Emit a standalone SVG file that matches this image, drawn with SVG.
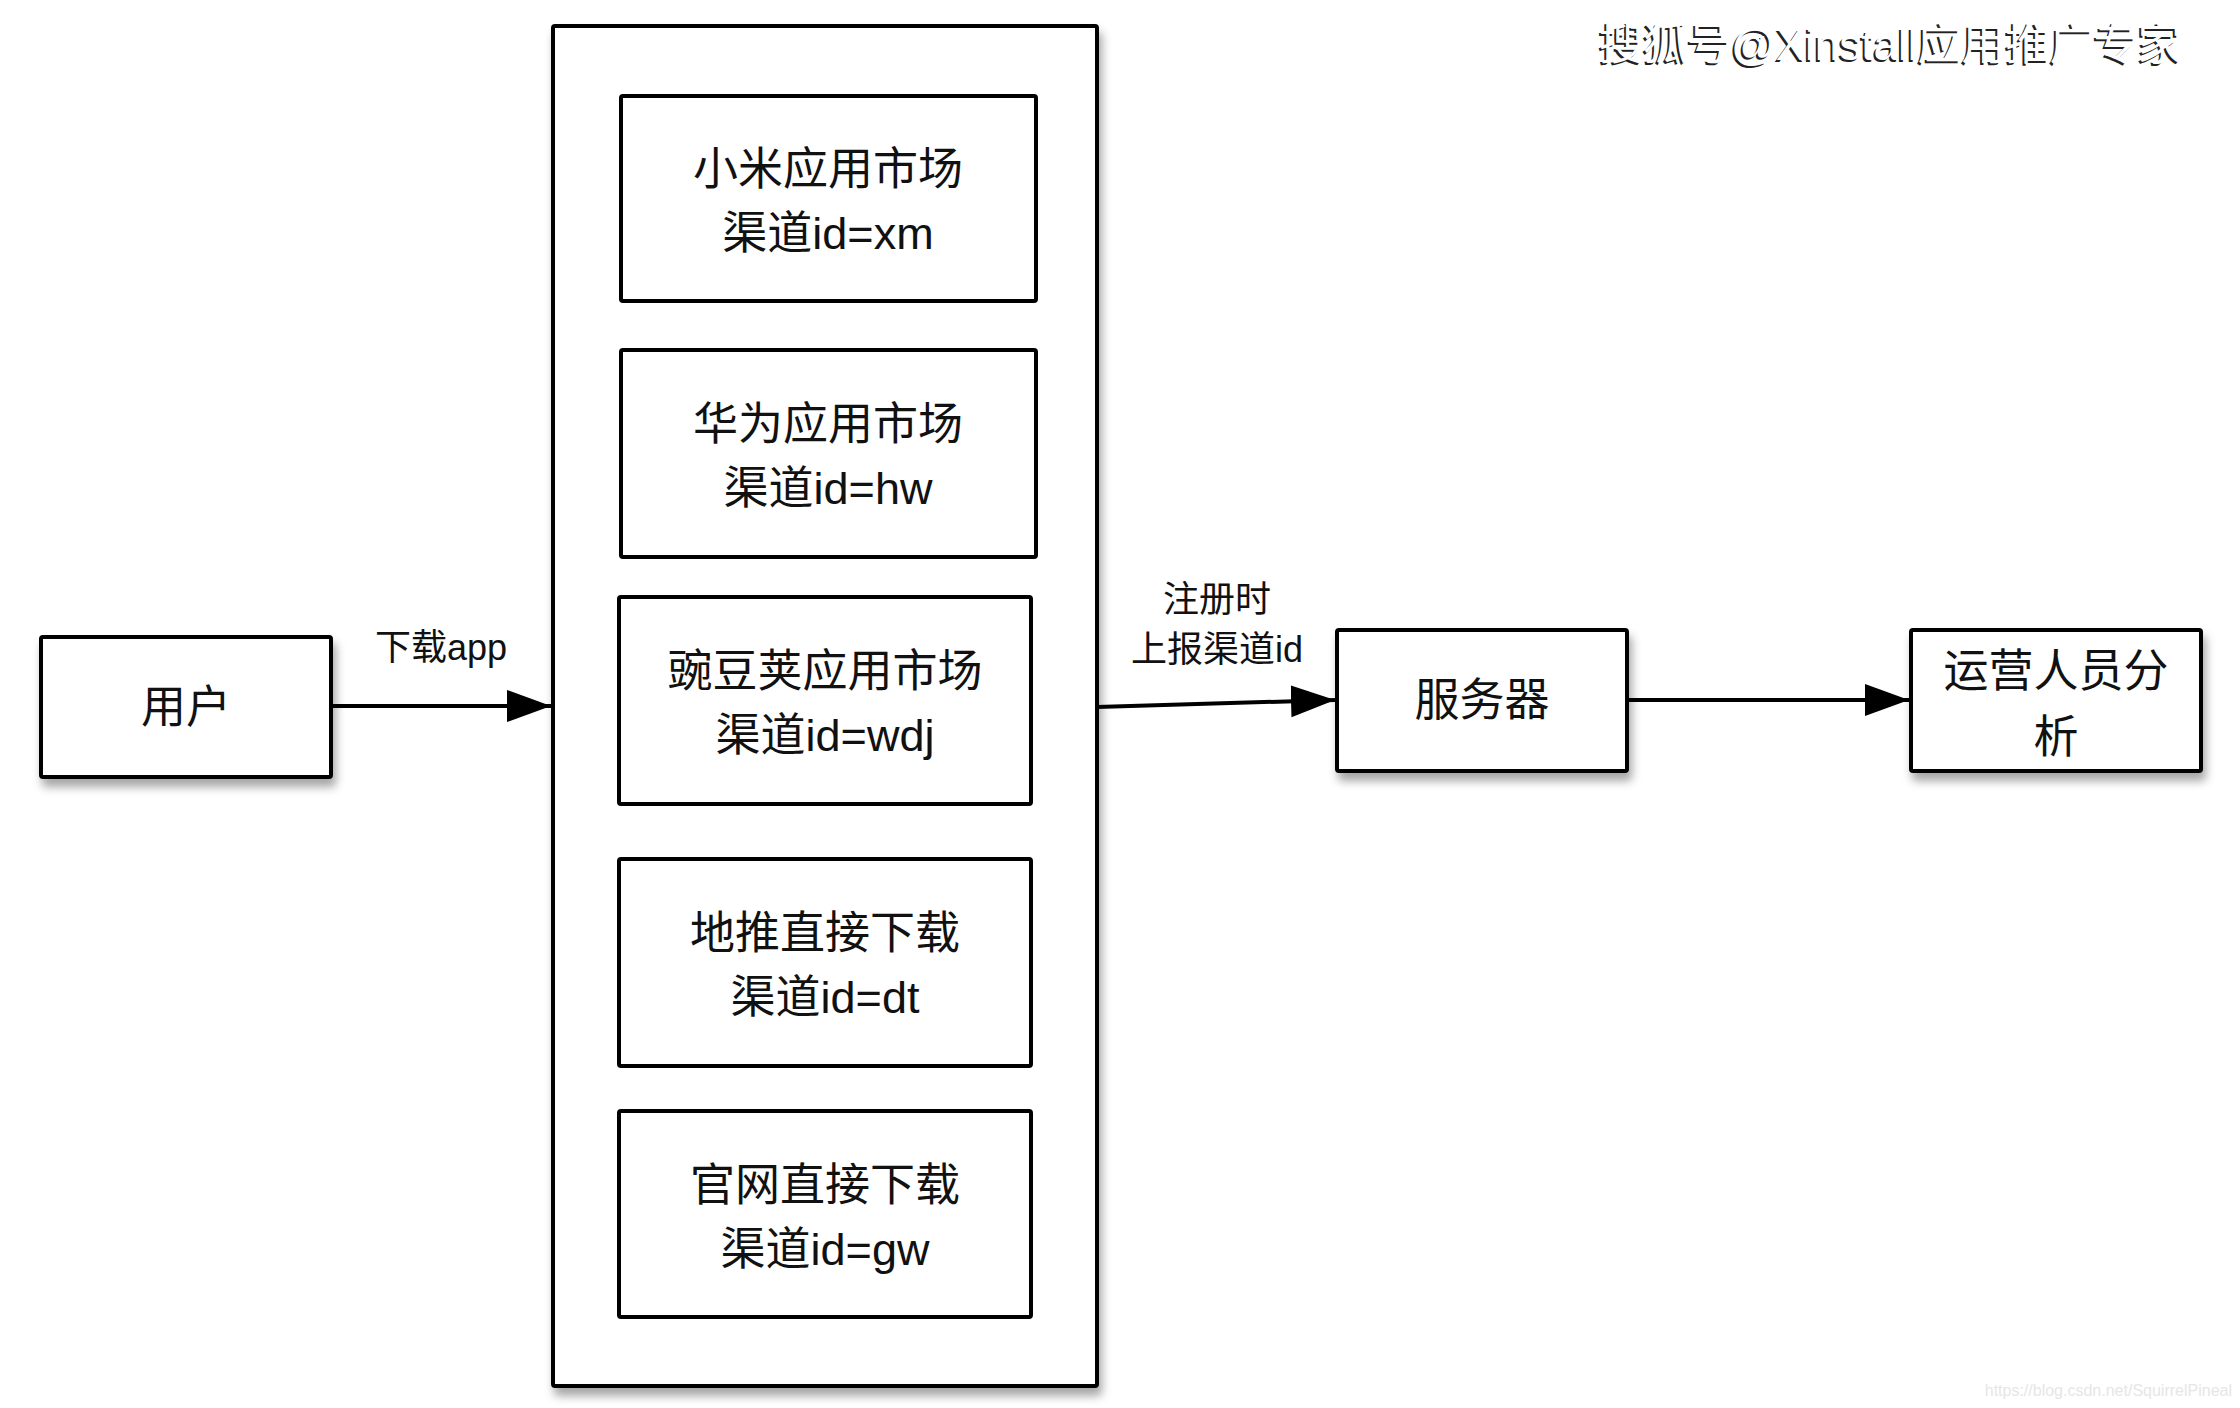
<svg xmlns="http://www.w3.org/2000/svg" width="2240" height="1408" viewBox="0 0 2240 1408">
<defs>
<filter id="sh" x="-10%" y="-10%" width="130%" height="140%">
<feDropShadow dx="3" dy="8" stdDeviation="5" flood-color="#000" flood-opacity="0.35"/>
</filter>
<marker id="ah" markerUnits="userSpaceOnUse" markerWidth="46" markerHeight="34" refX="44" refY="16" orient="auto">
<path d="M0,0 L44,16 L0,32 Z" fill="#000"/>
</marker>
<style>
.box{fill:#fff;stroke:#000;stroke-width:4;}
.sh{filter:url(#sh);}
.t{font-family:"Liberation Sans","Noto Sans CJK SC",sans-serif;font-size:45px;fill:#111;text-anchor:middle;}
.l{font-family:"Liberation Sans","Noto Sans CJK SC",sans-serif;font-size:36px;fill:#111;text-anchor:middle;}
.c{fill:none;stroke:#000;stroke-width:4;marker-end:url(#ah);}
.wm{font-family:"Liberation Sans","Noto Sans CJK SC",sans-serif;font-size:44px;}
</style>
</defs>
<rect width="2240" height="1408" fill="#fff"/>

<g id="watermark">
<text class="wm" x="1597" y="62" fill="#222">搜狐号@Xinstall应用推广专家</text>
<text class="wm" x="1599" y="60" fill="#fff">搜狐号@Xinstall应用推广专家</text>
<text x="2232" y="1396" font-family="Liberation Sans, sans-serif" font-size="16" fill="#e6e6e6" text-anchor="end">https://blog.csdn.net/SquirrelPineal</text>
</g>

<g id="user">
<rect class="box sh" x="41" y="637" width="290" height="140" rx="2"/>
<text class="t" x="186" y="723">用户</text>
</g>

<g id="channels">
<rect class="box sh" x="553" y="26" width="544" height="1360" rx="2"/>
</g>

<g id="xiaomi">
<rect class="box" x="621" y="96" width="415" height="205" rx="2"/>
<text class="t" x="828" y="185">小米应用市场</text>
<text class="t" x="828" y="249">渠道id=xm</text>
</g>

<g id="huawei">
<rect class="box" x="621" y="350" width="415" height="207" rx="2"/>
<text class="t" x="828" y="440">华为应用市场</text>
<text class="t" x="828" y="504">渠道id=hw</text>
</g>

<g id="wandoujia">
<rect class="box" x="619" y="597" width="412" height="207" rx="2"/>
<text class="t" x="825" y="687">豌豆荚应用市场</text>
<text class="t" x="825" y="751">渠道id=wdj</text>
</g>

<g id="ditui">
<rect class="box" x="619" y="859" width="412" height="207" rx="2"/>
<text class="t" x="825" y="949">地推直接下载</text>
<text class="t" x="825" y="1013">渠道id=dt</text>
</g>

<g id="guanwang">
<rect class="box" x="619" y="1111" width="412" height="206" rx="2"/>
<text class="t" x="825" y="1201">官网直接下载</text>
<text class="t" x="825" y="1265">渠道id=gw</text>
</g>

<g id="server">
<rect class="box sh" x="1337" y="630" width="290" height="141" rx="2"/>
<text class="t" x="1482" y="716">服务器</text>
</g>

<g id="ops">
<rect class="box sh" x="1911" y="630" width="290" height="141" rx="2"/>
<text class="t" x="2056" y="687">运营人员分</text>
<text class="t" x="2056" y="753">析</text>
</g>

<g id="connectors">
<line class="c" x1="331" y1="706" x2="551" y2="706"/>
<text class="l" x="441" y="660">下载app</text>
<line class="c" x1="1097" y1="707" x2="1335" y2="700"/>
<text class="l" x="1217" y="612">注册时</text>
<text class="l" x="1217" y="662">上报渠道id</text>
<line class="c" x1="1627" y1="700" x2="1909" y2="700"/>
</g>
</svg>
